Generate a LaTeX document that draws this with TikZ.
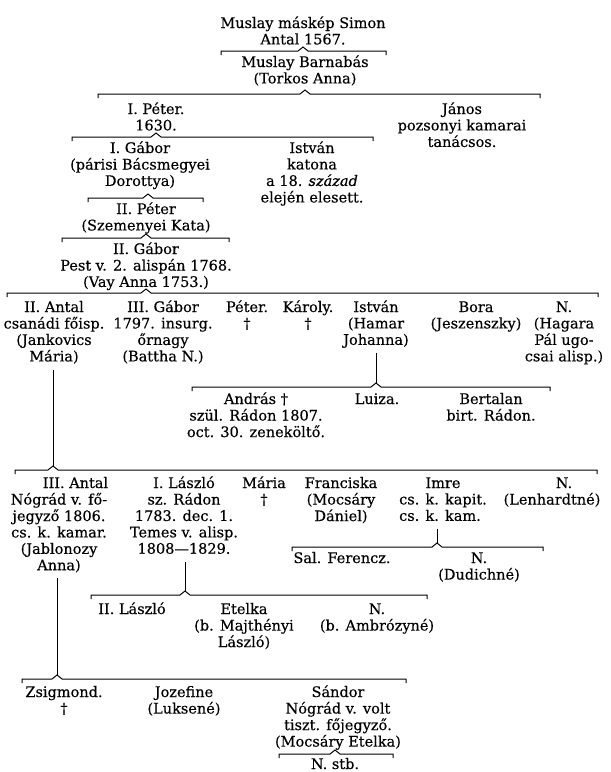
\documentclass[tikz,border=0pt]{standalone}
\usepackage{fontspec}
\setmainfont{DejaVu Serif}[FakeBold=0.35]
\usetikzlibrary{calc}
\newcommand\gfont{\fontsize{14.5}{16.4}\selectfont}
\newcommand\gtab[1]{\begin{tabular}[t]{@{}c@{}}#1\end{tabular}}
\newcommand\gbrak[4]{\draw[brak] (#1,#3+4) -- (#1,#3) -- ($(#4)+(-5,4)$) -- (#4) -- ($(#4)+(5,4)$) -- (#2,#3) -- (#2,#3+4);}
\begin{document}
\begin{tikzpicture}[x=1pt,y=-1pt,
  gen/.style={anchor=base,inner sep=0pt,font=\gfont},
  brak/.style={line width=1.0pt,line join=miter},
  drop/.style={line width=0.9pt}]
\useasboundingbox[fill=white] (0,0) rectangle (611,772);

\node[gen] (antal0) at (303,28) {\gtab{Muslay máskép Simon\\Antal 1567.}};
\coordinate (k1) at (303,47);
\gbrak{221}{386}{51}{k1}
\node[gen] (barnabas) at (305,67) {\gtab{Muslay Barnabás\\(Torkos Anna)}};
\coordinate (k2) at (305,90);
\gbrak{98}{540}{94}{k2}
\node[gen] (peter1) at (156,114) {\gtab{I. Péter.\\1630.}};
\node[gen] (janos) at (462,114) {\gtab{János\\pozsonyi kamarai\\tanácsos.}};
\coordinate (k3) at (156,133);
\gbrak{72}{373}{137}{k3}
\node[gen] (gabor1) at (140,153) {\gtab{I. Gábor\\(párisi Bácsmegyei\\Dorottya)}};
\node[gen] (istvan1) at (312,153) {\gtab{István\\katona\\a 18. \textit{század}\\elején elesett.}};
\coordinate (k4) at (148,194);
\gbrak{88}{203}{198}{k4}
\node[gen] (peter2) at (146,214) {\gtab{II. Péter\\(Szemenyei Kata)}};
\coordinate (k5) at (146,234);
\gbrak{62}{229}{238}{k5}
\node[gen] (gabor2) at (146,254) {\gtab{II. Gábor\\Pest v. 2. alispán 1768.\\(Vay Anna 1753.)}};
\coordinate (k6) at (146,289);
\gbrak{7}{598}{293}{k6}

\node[gen] (antal2) at (54,312) {\gtab{II. Antal\\csanádi főisp.\\(Jankovics\\Mária)}};
\node[gen] (gabor3) at (163,312) {\gtab{III. Gábor\\1797. insurg.\\őrnagy\\(Battha N.)}};
\node[gen] (peter3) at (247,312) {\gtab{Péter.\\†}};
\node[gen] (karoly) at (308,312) {\gtab{Károly.\\†}};
\node[gen] (istvan2) at (376,312) {\gtab{István\\(Hamar\\Johanna)}};
\node[gen] (bora) at (476,312) {\gtab{Bora\\(Jeszenszky)}};
\node[gen] (n1) at (564,312) {\gtab{N.\\(Hagara\\Pál ugo-\\csai alisp.)}};

\coordinate (k7) at (376,383);
\draw[drop] ($(istvan2.south -| k7)+(0,3)$) -- (k7);
\gbrak{192}{550}{387}{k7}
\node[gen] (andras) at (256,404) {\gtab{András †\\szül. Rádon 1807.\\oct. 30. zeneköltő.}};
\node[gen] (luiza) at (377,404) {\gtab{Luiza.}};
\node[gen] (bertalan) at (491,404) {\gtab{Bertalan\\birt. Rádon.}};

\coordinate (k8) at (53,466);
\draw[drop] ($(antal2.south -| k8)+(0,3)$) -- (k8);
\gbrak{15}{597}{470}{k8}
\node[gen] (antal3) at (59,488) {\gtab{\hspace*{33pt}III. Antal\\Nógrád v. fő-\\jegyző 1806.\\cs. k. kamar.\\(Jablonozy\\Anna)}};
\node[gen] (laszlo1) at (184,488) {\gtab{I. László\\sz. Rádon\\1783. dec. 1.\\Temes v. alisp.\\1808—1829.}};
\node[gen] (maria2) at (264,488) {\gtab{Mária\\†}};
\node[gen] (franciska) at (341,488) {\gtab{Franciska\\(Mocsáry\\Dániel)}};
\node[gen] (imre) at (443,488) {\begin{tabular}[t]{@{}l@{}}\multicolumn{1}{@{}c@{}}{Imre}\\cs. k. kapit.\\cs. k. kam.\end{tabular}};
\node[gen] (n2) at (552,488) {\gtab{\hspace*{24pt}N.\\(Lenhardtné)}};

\coordinate (k9) at (437,543);
\draw[drop] ($(imre.south -| k9)+(0,3)$) -- (k9);
\gbrak{292}{543}{547}{k9}
\node[gen] (ferencz) at (342,563) {\gtab{Sal. Ferencz.}};
\node[gen] (n3) at (479,563) {\gtab{N.\\(Dudichné)}};

\coordinate (k10) at (185,591);
\draw[drop] ($(laszlo1.south -| k10)+(0,3)$) -- (k10);
\gbrak{91}{427}{595}{k10}
\node[gen] (laszlo2) at (132,614) {\gtab{II. László}};
\node[gen] (etelka) at (244,614) {\gtab{Etelka\\(b. Majthényi\\László)}};
\node[gen] (n4) at (377,614) {\gtab{N.\\(b. Ambrózyné)}};

\coordinate (k11) at (57,675);
\draw[drop] ($(antal3.south -| k11)+(0,3)$) -- (k11);
\gbrak{22}{406}{679}{k11}
\node[gen] (zsigmond) at (64,697) {\gtab{Zsigmond.\\†}};
\node[gen] (jozefine) at (184,697) {\gtab{Jozefine\\(Luksené)}};
\node[gen] (sandor) at (338,697) {\gtab{Sándor\\Nógrád v. volt\\tiszt. főjegyző.\\(Mocsáry Etelka)}};
\coordinate (k12) at (335,750);
\gbrak{279}{393}{754}{k12}
\node[gen] (nstb) at (335,769) {\gtab{N. stb.}};
\end{tikzpicture}
\end{document}
